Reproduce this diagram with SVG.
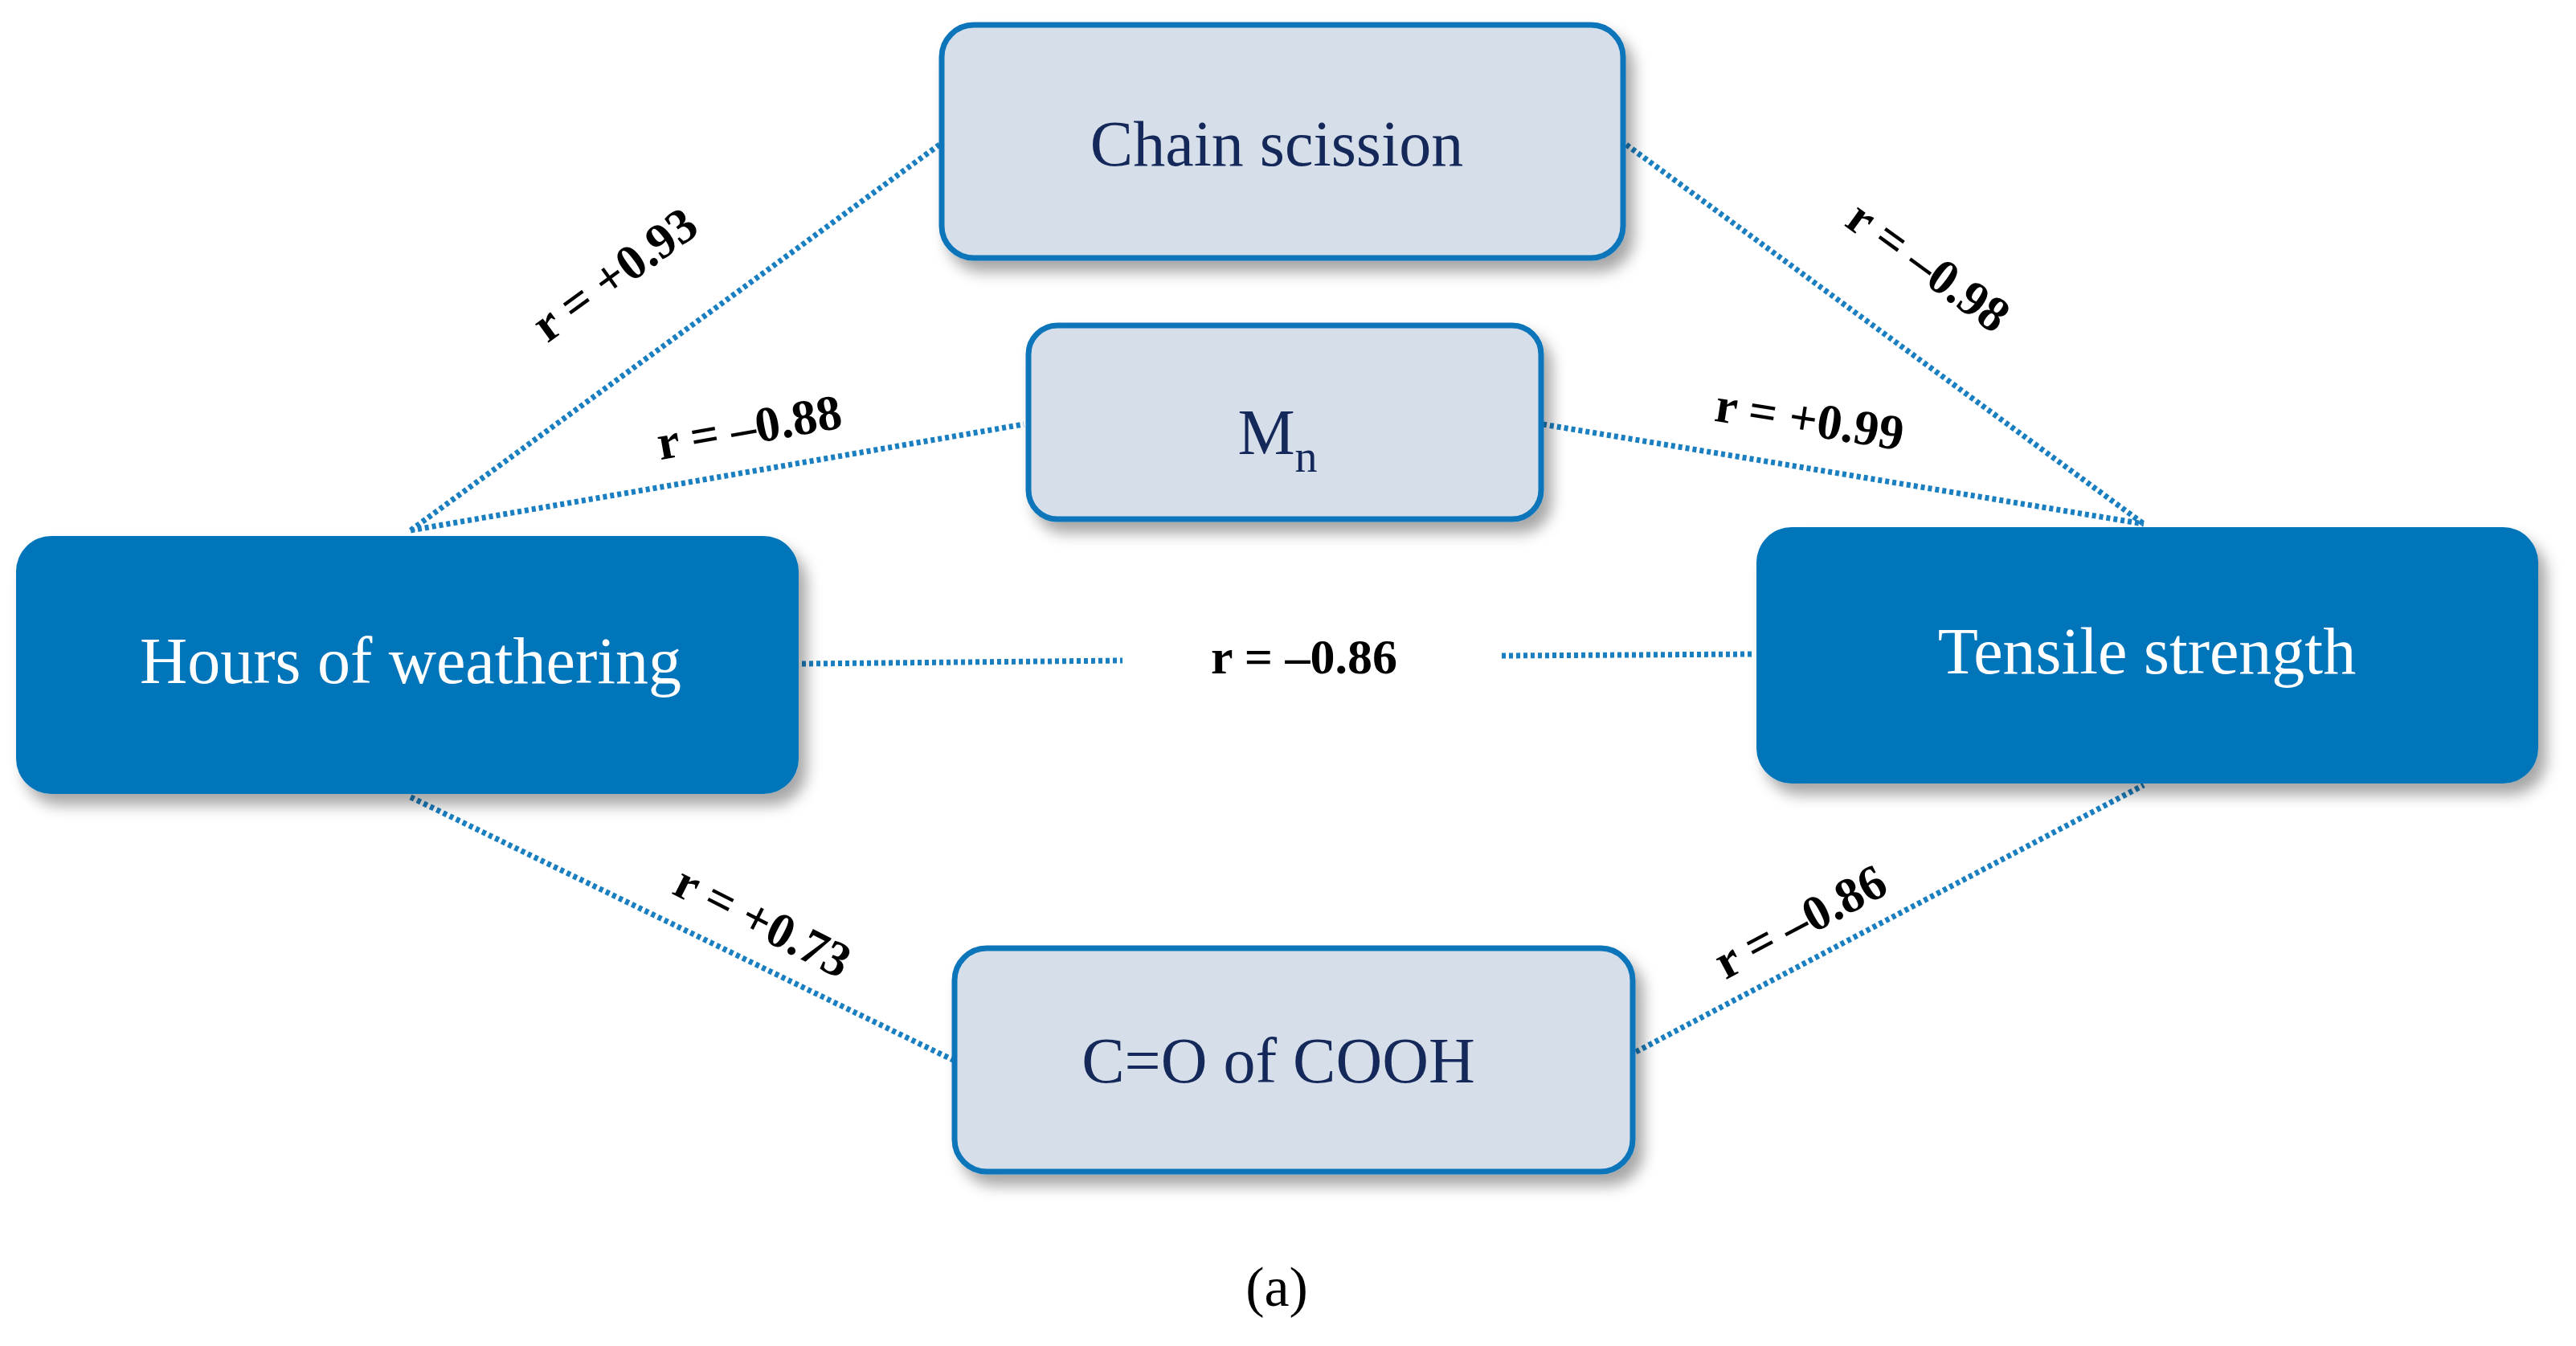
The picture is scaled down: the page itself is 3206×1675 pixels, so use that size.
<svg xmlns="http://www.w3.org/2000/svg" width="3206" height="1675" viewBox="0 0 3206 1675">
<defs>
<filter id="sh" x="-10%" y="-10%" width="130%" height="140%"><feDropShadow dx="10" dy="14" stdDeviation="9" flood-color="#000" flood-opacity="0.35"/></filter>
</defs>
<style>
.light{fill:#d6dfe9;stroke:#0e74ba;stroke-width:7}
.dark{fill:#0075b9}
.lt{font-family:"Liberation Serif",serif;font-size:80px;fill:#14285a;text-anchor:middle}
.dt{font-family:"Liberation Serif",serif;font-size:82px;fill:#fff;text-anchor:middle}
.lab{font-family:"Liberation Serif",serif;font-size:62px;font-weight:bold;fill:#000;text-anchor:middle}
.c{stroke:#1a7fc0;stroke-width:7;stroke-dasharray:5 4;fill:none}
</style>
<rect width="3206" height="1675" fill="#fff"/>
<g id="connectors">
<line class="c" x1="511" y1="660" x2="1172" y2="178"/>
<line class="c" x1="511" y1="660" x2="1274" y2="528"/>
<line class="c" x1="998" y1="826" x2="1397" y2="822"/>
<line class="c" x1="1869" y1="816" x2="2184" y2="814"/>
<line class="c" x1="2024" y1="180" x2="2668" y2="652"/>
<line class="c" x1="1920" y1="528" x2="2668" y2="652"/>
<line class="c" x1="511" y1="992" x2="1186" y2="1319"/>
<line class="c" x1="2036" y1="1309" x2="2668" y2="977"/>
<text class="lab" transform="translate(777,358) rotate(-36)">r = +0.93</text>
<text class="lab" transform="translate(936,552) rotate(-10)">r = –0.88</text>
<text class="lab" x="1623" y="838">r = –0.86</text>
<text class="lab" transform="translate(2388,348) rotate(36)">r = –0.98</text>
<text class="lab" transform="translate(2249,542) rotate(9)">r = +0.99</text>
<text class="lab" transform="translate(940,1165) rotate(27)">r = +0.73</text>
<text class="lab" transform="translate(2250,1165) rotate(-28)">r = –0.86</text>
</g>
<g id="chain"><rect class="light" x="1172" y="31" width="848" height="290" rx="40" filter="url(#sh)"/><text class="lt" x="1589" y="206">Chain scission</text></g>
<g id="mn"><rect class="light" x="1280" y="405" width="638" height="241" rx="36" filter="url(#sh)"/><text class="lt" x="1590" y="565">M<tspan font-size="56" dy="22">n</tspan></text></g>
<g id="hours"><rect class="dark" x="20" y="667" width="974" height="321" rx="44" filter="url(#sh)"/><text class="dt" x="511" y="850">Hours of weathering</text></g>
<g id="tensile"><rect class="dark" x="2186" y="656" width="973" height="319" rx="44" filter="url(#sh)"/><text class="dt" x="2672" y="838">Tensile strength</text></g>
<g id="cooh"><rect class="light" x="1188" y="1180" width="844" height="278" rx="40" filter="url(#sh)"/><text class="lt" x="1591" y="1347">C=O of COOH</text></g>
<text x="1589" y="1625" font-family="Liberation Serif,serif" font-size="70" text-anchor="middle" fill="#000">(a)</text>
</svg>
